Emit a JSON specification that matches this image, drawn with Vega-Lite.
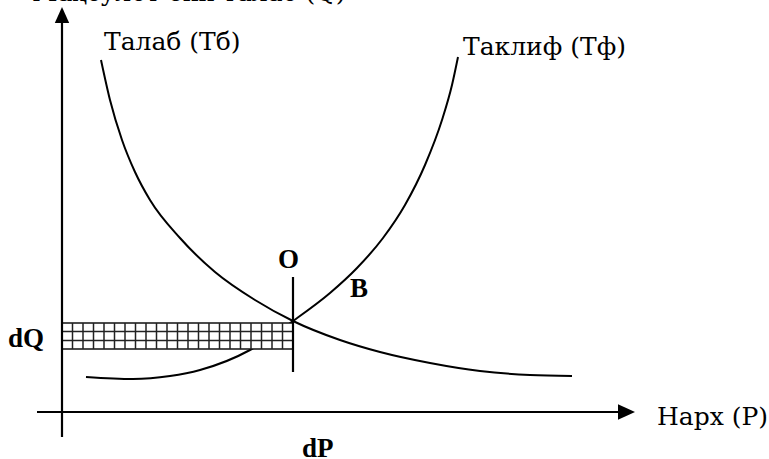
{
  "$schema": "https://vega.github.io/schema/vega-lite/v6.json",
  "width": 769,
  "height": 459,
  "autosize": {"type": "none"},
  "padding": 0,
  "background": "white",
  "config": {"view": {"stroke": null}},
  "datasets": {
    "demand": [
      {"P": 0.39, "Q": 3.52}, {"P": 0.48, "Q": 3.12}, {"P": 0.60, "Q": 2.72}, {"P": 0.73, "Q": 2.40},
      {"P": 0.88, "Q": 2.12}, {"P": 1.18, "Q": 1.74}, {"P": 1.53, "Q": 1.40}, {"P": 1.93, "Q": 1.12},
      {"P": 2.31, "Q": 0.91}, {"P": 2.78, "Q": 0.72}, {"P": 3.18, "Q": 0.60}, {"P": 3.68, "Q": 0.49},
      {"P": 4.18, "Q": 0.41}, {"P": 4.68, "Q": 0.37}, {"P": 5.10, "Q": 0.36}
    ],
    "supply": [
      {"P": 0.24, "Q": 0.35}, {"P": 0.71, "Q": 0.33}, {"P": 1.08, "Q": 0.36}, {"P": 1.38, "Q": 0.42},
      {"P": 1.88, "Q": 0.62}, {"P": 2.31, "Q": 0.91}, {"P": 2.68, "Q": 1.19}, {"P": 2.95, "Q": 1.44},
      {"P": 3.21, "Q": 1.74}, {"P": 3.43, "Q": 2.07}, {"P": 3.63, "Q": 2.47}, {"P": 3.80, "Q": 2.92},
      {"P": 3.90, "Q": 3.27}, {"P": 3.96, "Q": 3.55}
    ],
    "axes": [
      {"P": -0.25, "P2": 5.58, "Q": 0, "Q2": 0},
      {"P": 0, "P2": 0, "Q": -0.25, "Q2": 3.90},
      {"P": 2.31, "P2": 2.31, "Q": 0.40, "Q2": 1.35}
    ],
    "box": [{"P": 0, "P2": 2.31, "Q": 0.63, "Q2": 0.89}],
    "gridv": [
      {"P": 0.105}, {"P": 0.21}, {"P": 0.315}, {"P": 0.42}, {"P": 0.525}, {"P": 0.63}, {"P": 0.735},
      {"P": 0.84}, {"P": 0.945}, {"P": 1.05}, {"P": 1.155}, {"P": 1.26}, {"P": 1.365}, {"P": 1.47},
      {"P": 1.575}, {"P": 1.68}, {"P": 1.785}, {"P": 1.89}, {"P": 1.995}, {"P": 2.10}, {"P": 2.205}
    ],
    "gridh": [{"Q": 0.715}, {"Q": 0.805}],
    "arrowUp": [{"P": 0, "Q": 3.97}],
    "arrowRight": [{"P": 5.645, "Q": 0}],
    "labels": [
      {"P": 0.42, "Q": 3.62, "t": "Талаб (Тб)"},
      {"P": 4.01, "Q": 3.57, "t": "Таклиф (Тф)"},
      {"P": 5.95, "Q": -0.13, "t": "Нарх (P)"},
      {"P": -0.30, "Q": 4.11, "t": "Маҳсулот ёки талаб (Q)"}
    ],
    "bold": [
      {"P": 2.16, "Q": 1.44, "t": "O"},
      {"P": 2.88, "Q": 1.15, "t": "B"},
      {"P": -0.54, "Q": 0.65, "t": "dQ"},
      {"P": 2.40, "Q": -0.45, "t": "dP"}
    ]
  },
  "layer": [
    {
      "data": {"name": "demand"},
      "mark": {"type": "line", "interpolate": "monotone", "color": "black", "strokeWidth": 2},
      "encoding": {
        "x": {"field": "P", "type": "quantitative", "axis": null, "scale": {"domain": [-0.62, 7.07], "nice": false, "zero": false}},
        "y": {"field": "Q", "type": "quantitative", "axis": null, "scale": {"domain": [-0.47, 4.12], "nice": false, "zero": false}}
      }
    },
    {
      "data": {"name": "supply"},
      "mark": {"type": "line", "interpolate": "monotone", "color": "black", "strokeWidth": 2},
      "encoding": {
        "x": {"field": "P", "type": "quantitative"},
        "y": {"field": "Q", "type": "quantitative"}
      }
    },
    {
      "data": {"name": "box"},
      "mark": {"type": "rect", "fill": "white", "stroke": "#111", "strokeWidth": 1.5},
      "encoding": {
        "x": {"field": "P", "type": "quantitative"},
        "x2": {"field": "P2"},
        "y": {"field": "Q", "type": "quantitative"},
        "y2": {"field": "Q2"}
      }
    },
    {
      "data": {"name": "gridv"},
      "mark": {"type": "rule", "color": "#222", "strokeWidth": 1.5},
      "encoding": {
        "x": {"field": "P", "type": "quantitative"},
        "y": {"datum": 0.63, "type": "quantitative"},
        "y2": {"datum": 0.89}
      }
    },
    {
      "data": {"name": "gridh"},
      "mark": {"type": "rule", "color": "#222", "strokeWidth": 1.5},
      "encoding": {
        "y": {"field": "Q", "type": "quantitative"},
        "x": {"datum": 0, "type": "quantitative"},
        "x2": {"datum": 2.31}
      }
    },
    {
      "data": {"name": "axes"},
      "mark": {"type": "rule", "color": "black", "strokeWidth": 2.2},
      "encoding": {
        "x": {"field": "P", "type": "quantitative"},
        "x2": {"field": "P2"},
        "y": {"field": "Q", "type": "quantitative"},
        "y2": {"field": "Q2"}
      }
    },
    {
      "data": {"name": "arrowUp"},
      "mark": {"type": "point", "shape": "M0,-1L-0.9,1L0.9,1Z", "filled": true, "size": 256, "color": "black", "opacity": 1, "strokeWidth": 0},
      "encoding": {
        "x": {"field": "P", "type": "quantitative"},
        "y": {"field": "Q", "type": "quantitative"}
      }
    },
    {
      "data": {"name": "arrowRight"},
      "mark": {"type": "point", "shape": "M1,0L-1,-0.9L-1,0.9Z", "filled": true, "size": 289, "color": "black", "opacity": 1, "strokeWidth": 0},
      "encoding": {
        "x": {"field": "P", "type": "quantitative"},
        "y": {"field": "Q", "type": "quantitative"}
      }
    },
    {
      "data": {"name": "labels"},
      "mark": {"type": "text", "font": "DejaVu Serif", "fontSize": 25, "align": "left", "baseline": "alphabetic", "color": "black"},
      "encoding": {
        "x": {"field": "P", "type": "quantitative"},
        "y": {"field": "Q", "type": "quantitative"},
        "text": {"field": "t"}
      }
    },
    {
      "data": {"name": "bold"},
      "mark": {"type": "text", "font": "Times New Roman", "fontSize": 27, "fontWeight": "bold", "align": "left", "baseline": "alphabetic", "color": "black"},
      "encoding": {
        "x": {"field": "P", "type": "quantitative"},
        "y": {"field": "Q", "type": "quantitative"},
        "text": {"field": "t"}
      }
    }
  ]
}
